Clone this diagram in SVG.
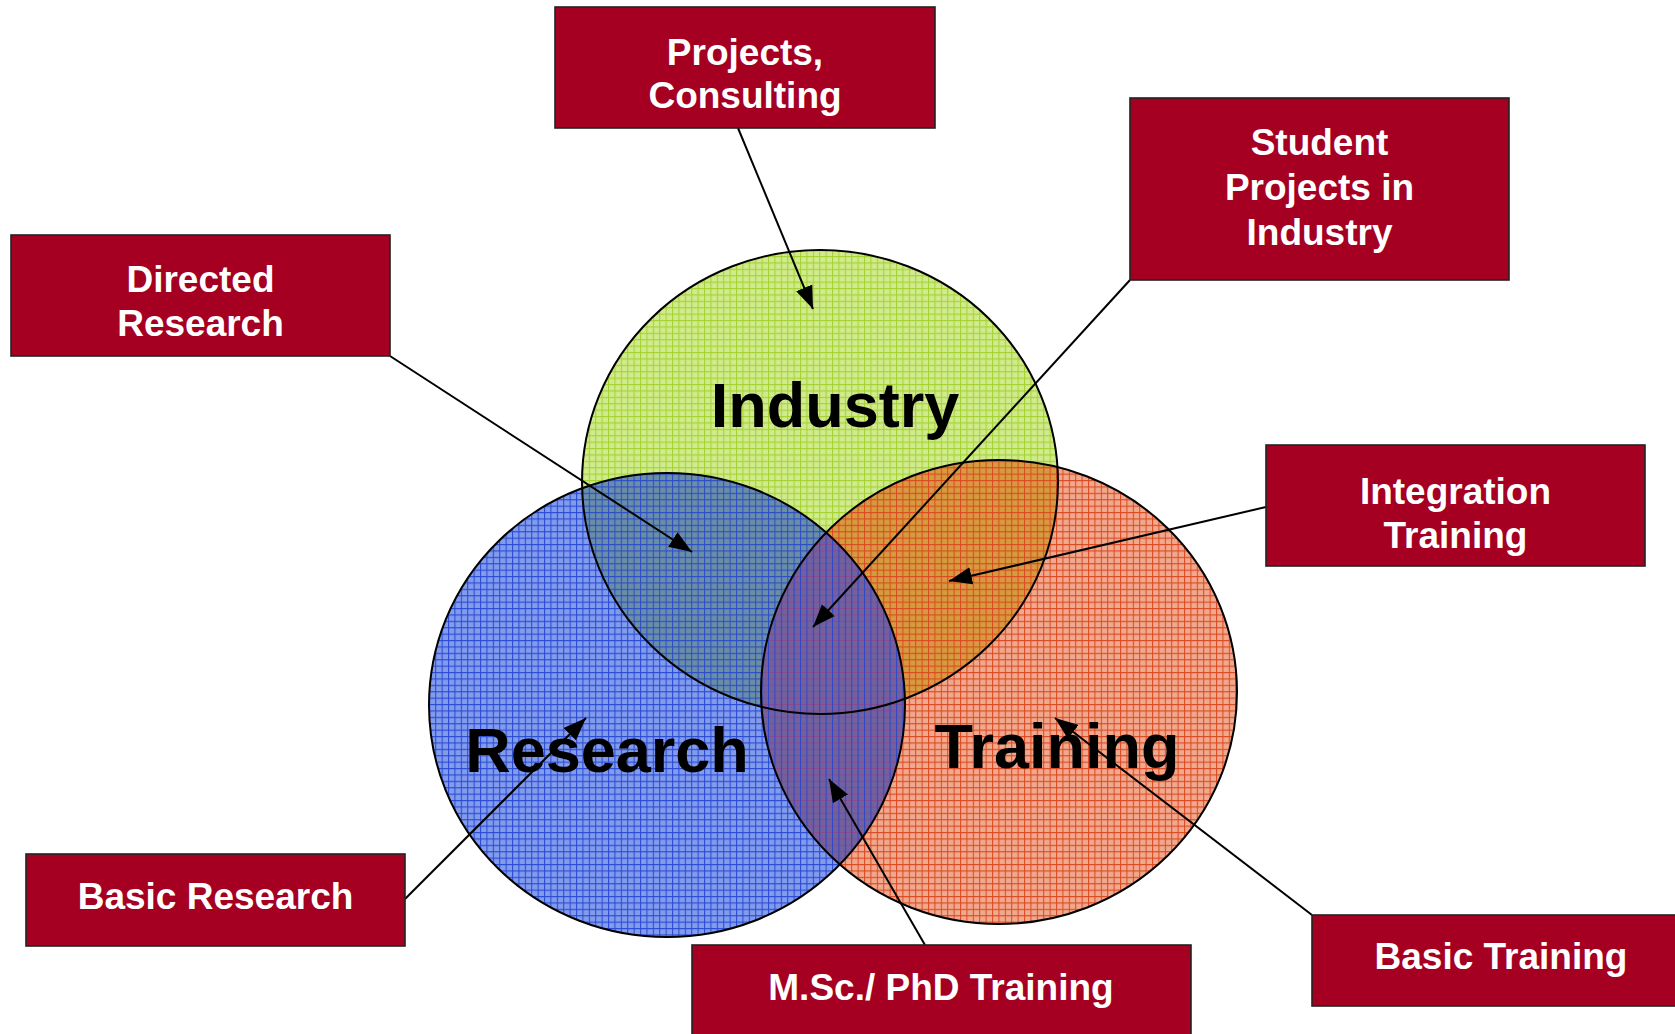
<svg xmlns="http://www.w3.org/2000/svg" width="1675" height="1034" viewBox="0 0 1675 1034">
<style>
.box{fill:#a50021;stroke:#222;stroke-width:1.6}
.bt{font-family:"Liberation Sans",Arial,sans-serif;font-weight:bold;font-size:37px;fill:#fff;text-anchor:middle}
.big{font-family:"Liberation Sans",Arial,sans-serif;font-weight:bold;font-size:63px;fill:#000;text-anchor:middle}
.ring{fill:none;stroke:#000;stroke-width:2}
.conn{stroke:#000;stroke-width:2;fill:none;marker-end:url(#ah)}
</style>
<defs>
<marker id="ah" markerUnits="userSpaceOnUse" markerWidth="24" markerHeight="18" refX="21" refY="8" orient="auto" viewBox="0 0 22 16">
<path d="M0,0 L21,8 L0,16 Z" fill="#000"/>
</marker>
<pattern id="pG" patternUnits="userSpaceOnUse" width="6.4" height="6.4">
<rect width="6.4" height="6.4" fill="#d0ea8e"/><path d="M0,0.5H6.4M0.5,0V6.4" stroke="#a6d234" stroke-width="1.1"/></pattern>
<pattern id="pR" patternUnits="userSpaceOnUse" width="6.4" height="6.4">
<rect width="6.4" height="6.4" fill="#f0a98e"/><path d="M0,0.5H6.4M0.5,0V6.4" stroke="#dc4a22" stroke-width="1.1"/></pattern>
<pattern id="pB" patternUnits="userSpaceOnUse" width="6.4" height="6.4">
<rect width="6.4" height="6.4" fill="#829bec"/><path d="M0,0.5H6.4M0.5,0V6.4" stroke="#2a4cd4" stroke-width="1.1"/></pattern>
<pattern id="pGR" patternUnits="userSpaceOnUse" width="6.4" height="6.4">
<rect width="6.4" height="6.4" fill="#d59b3e"/><path d="M0,0.5H6.4M0.5,0V6.4" stroke="#dc4a24" stroke-width="1.1"/></pattern>
<pattern id="pGB" patternUnits="userSpaceOnUse" width="6.4" height="6.4">
<rect width="6.4" height="6.4" fill="#6a8ea6"/><path d="M0,0.5H6.4M0.5,0V6.4" stroke="#2c4ec8" stroke-width="1.1"/></pattern>
<pattern id="pBR" patternUnits="userSpaceOnUse" width="6.4" height="6.4">
<rect width="6.4" height="6.4" fill="#71619e"/><path d="M0,0.5H6.4" stroke="#8a4a8a" stroke-width="1.1"/><path d="M0.5,0V6.4" stroke="#3048c8" stroke-width="1.1"/></pattern>
<clipPath id="cG"><ellipse cx="820" cy="482" rx="238" ry="232"/></clipPath>
<clipPath id="cR"><ellipse cx="999" cy="692" rx="238" ry="232"/></clipPath>
</defs>
<rect width="1675" height="1034" fill="#fff"/>

<g id="industry">
<ellipse cx="820" cy="482" rx="238" ry="232" fill="url(#pG)"/>
</g>
<g id="training">
<ellipse cx="999" cy="692" rx="238" ry="232" fill="url(#pR)"/>
</g>
<g id="research">
<ellipse cx="667" cy="705" rx="238" ry="232" fill="url(#pB)"/>
</g>
<g id="overlaps">
<g clip-path="url(#cG)"><ellipse cx="999" cy="692" rx="238" ry="232" fill="url(#pGR)"/></g>
<g clip-path="url(#cG)"><ellipse cx="667" cy="705" rx="238" ry="232" fill="url(#pGB)"/></g>
<g clip-path="url(#cR)"><ellipse cx="667" cy="705" rx="238" ry="232" fill="url(#pBR)"/></g>
</g>
<g id="outlines">
<ellipse class="ring" cx="820" cy="482" rx="238" ry="232"/>
<ellipse class="ring" cx="999" cy="692" rx="238" ry="232" stroke="#1a1010"/>
<ellipse class="ring" cx="667" cy="705" rx="238" ry="232"/>
</g>
<g id="circle-labels">
<text class="big" x="835" y="427" font-size="64">Industry</text>
<text class="big" x="607" y="772">Research</text>
<text class="big" x="1057" y="768" font-size="64">Training</text>
</g>

<g id="connectors">
<line class="conn" x1="738" y1="128" x2="813" y2="309"/>
<line class="conn" x1="390" y1="356" x2="692" y2="552"/>
<line class="conn" x1="1130" y1="280" x2="813" y2="627"/>
<line class="conn" x1="1266" y1="507" x2="949" y2="581"/>
<line class="conn" x1="405" y1="899" x2="586" y2="718"/>
<line class="conn" x1="925" y1="945" x2="829" y2="779"/>
<line class="conn" x1="1312" y1="915" x2="1055" y2="718"/>
</g>

<g id="projects-consulting">
<rect class="box" x="555" y="7" width="380" height="121"/>
<text class="bt" x="745" y="65">Projects,</text>
<text class="bt" x="745" y="108">Consulting</text>
</g>
<g id="student-projects">
<rect class="box" x="1130" y="98" width="379" height="182"/>
<text class="bt" x="1319.5" y="155">Student</text>
<text class="bt" x="1319.5" y="200">Projects in</text>
<text class="bt" x="1319.5" y="245">Industry</text>
</g>
<g id="directed-research">
<rect class="box" x="11" y="235" width="379" height="121"/>
<text class="bt" x="200.5" y="292">Directed</text>
<text class="bt" x="200.5" y="336">Research</text>
</g>
<g id="integration-training">
<rect class="box" x="1266" y="445" width="379" height="121"/>
<text class="bt" x="1455.5" y="504">Integration</text>
<text class="bt" x="1455.5" y="548">Training</text>
</g>
<g id="basic-research">
<rect class="box" x="26" y="854" width="379" height="92"/>
<text class="bt" x="215.5" y="909">Basic Research</text>
</g>
<g id="msc-phd-training">
<rect class="box" x="692" y="945" width="499" height="100"/>
<text class="bt" x="941" y="1000">M.Sc./ PhD Training</text>
</g>
<g id="basic-training">
<rect class="box" x="1312" y="915" width="379" height="91"/>
<text class="bt" x="1501" y="969">Basic Training</text>
</g>
</svg>
